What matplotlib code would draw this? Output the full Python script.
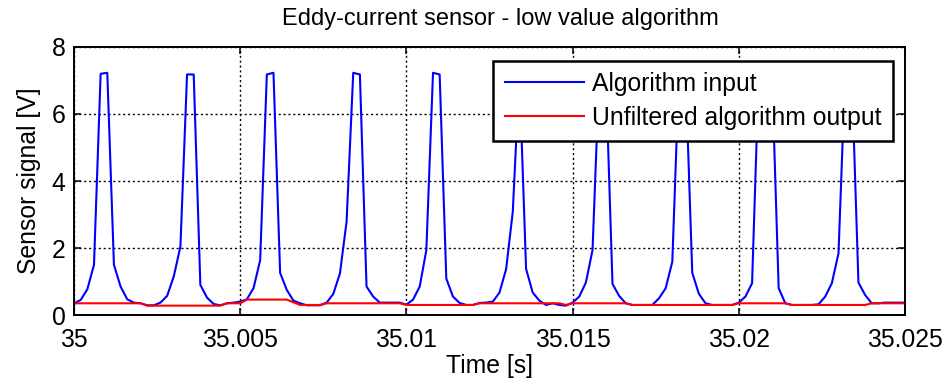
import numpy as np
import matplotlib
matplotlib.use("Agg")
import matplotlib.pyplot as plt

# sensor samples (5 kHz)
t_start = 35.0
t_end = 35.025
algo_input = [0.35, 0.45, 0.77, 1.5, 7.2, 7.23, 1.5, 0.85, 0.47, 0.37,
              0.35, 0.29, 0.29, 0.37, 0.57, 1.15, 2.04, 7.18, 7.18, 0.9,
              0.52, 0.33, 0.29, 0.35, 0.37, 0.4, 0.47, 0.8, 1.64, 7.18,
              7.23, 1.26, 0.75, 0.43, 0.35, 0.29, 0.29, 0.29, 0.37, 0.63,
              1.24, 2.79, 7.23, 7.18, 0.85, 0.55, 0.37, 0.37, 0.37, 0.37,
              0.31, 0.46, 0.85, 1.94, 7.23, 7.18, 1.09, 0.55, 0.36, 0.3,
              0.3, 0.36, 0.37, 0.4, 0.67, 1.37, 3.08, 7.2, 1.38, 0.67,
              0.43, 0.3, 0.35, 0.3, 0.28, 0.37, 0.55, 0.97, 1.94, 7.2,
              7.2, 0.93, 0.57, 0.35, 0.3, 0.3, 0.3, 0.3, 0.5, 0.8,
              1.59, 7.2, 7.2, 1.26, 0.63, 0.35, 0.3, 0.3, 0.3, 0.3,
              0.37, 0.55, 0.95, 7.2, 7.2, 7.2, 0.8, 0.35, 0.3, 0.3,
              0.3, 0.3, 0.32, 0.55, 0.95, 1.84, 7.2, 7.2, 0.97, 0.6,
              0.35, 0.35, 0.37, 0.37, 0.37, 0.37]
algo_output = [0.35] * 11 + [0.28] * 12 + [0.35] * 3 + [0.46] * 7 + [0.38] \
    + [0.3] * 4 + [0.35] * 12 + [0.3] * 11 + [0.35] * 13 + [0.3] \
    + [0.35] * 9 + [0.3] * 16 + [0.35] * 8 + [0.3] * 12 + [0.35] * 6

xticks = [35, 35.005, 35.01, 35.015, 35.02, 35.025]
xticklabels = ["35", "35.005", "35.01", "35.015", "35.02", "35.025"]
yticks = [0, 2, 4, 6, 8]

t = np.linspace(t_start, t_end, len(algo_input))

plt.rcParams['font.family'] = ['Liberation Sans', 'DejaVu Sans']
plt.rcParams['font.size'] = 17.8

fig = plt.figure(figsize=(9.53, 3.83), dpi=100)
ax = fig.add_axes([0.0777, 0.1775, 0.8719, 0.6998])

ax.plot(t, algo_input, color='#0000ff', lw=1.5, label='Algorithm input')
ax.plot(t, algo_output[:len(t)], color='#ff0000', lw=1.5,
        label='Unfiltered algorithm output')

ax.set_xlim(t_start, t_end)
ax.set_ylim(0, 8)
ax.set_xticks(xticks)
ax.set_xticklabels(xticklabels)
ax.set_yticks(yticks)
ax.grid(True, color='k', ls=(0, (1.5, 2.0)), lw=1.0)
ax.tick_params(direction='in', top=True, right=True, length=5, width=1.1)
ax.tick_params(axis='x', pad=9)
ax.tick_params(axis='y', pad=6)
for s in ax.spines.values():
    s.set_linewidth(1.4)

ax.set_title('Eddy-current sensor - low value algorithm', fontsize=17,
             pad=16, x=0.5126)
ax.set_xlabel('Time [s]', labelpad=2)
ax.set_ylabel('Sensor signal [V]', labelpad=8)

leg = ax.legend(loc='upper right', bbox_to_anchor=(0.9856, 0.948),
                borderaxespad=0, fancybox=False, framealpha=1,
                edgecolor='k', handlelength=3.2, handletextpad=0.35,
                labelspacing=0.4, borderpad=0.45)
leg.get_frame().set_linewidth(1.8)

fig.savefig('out.png', dpi=100)
